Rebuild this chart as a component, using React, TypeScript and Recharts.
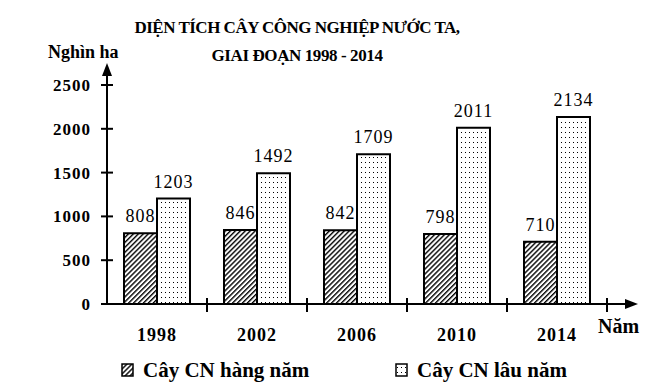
import React from 'react';
import { BarChart, Bar, XAxis, YAxis, LabelList } from 'recharts';

// Diện tích cây công nghiệp (nghìn ha)
const years = ['1998', '2002', '2006', '2010', '2014'];
const annualCrops = [808, 846, 842, 798, 710];
const perennialCrops = [1203, 1492, 1709, 2011, 2134];
const yTicks = [0, 500, 1000, 1500, 2000, 2500];
const seriesNames = ['Cây CN hàng năm', 'Cây CN lâu năm'];
const seriesFills = ['url(#hatch)', 'url(#dots)'];

const data = years.map((year, i) => ({
  year,
  annual: annualCrops[i],
  perennial: perennialCrops[i],
}));

const W = 650;
const H = 382;
const AXIS_X = 107;
const AXIS_Y = 304;
const PLOT_RIGHT = 607;
const PLOT_TOP = 85;
const BAND = (PLOT_RIGHT - AXIS_X) / years.length;
const FONT = '"Liberation Serif", "Times New Roman", serif';
const serif = { fontFamily: FONT };

const YTick = (props: any) => {
  const { x, y, payload } = props;
  return (
    <g>
      <line x1={AXIS_X - 6} x2={AXIS_X + 6} y1={y} y2={y} stroke="#000" strokeWidth={2} />
      <text x={x} y={y + 6} textAnchor="end" style={serif} fontWeight="bold" fontSize={17} letterSpacing={1} fill="#000">
        {payload.value}
      </text>
    </g>
  );
};

const XTick = (props: any) => {
  const { x, y, payload } = props;
  return (
    <g>
      <line x1={x + BAND / 2} x2={x + BAND / 2} y1={AXIS_Y - 6} y2={AXIS_Y + 8} stroke="#000" strokeWidth={2} />
      <text x={x} y={y} textAnchor="middle" style={serif} fontWeight="bold" fontSize={18} letterSpacing={1} fill="#000">
        {payload.value}
      </text>
    </g>
  );
};

export default function App() {
  return (
    <div style={{ position: 'absolute', left: 0, top: 0, width: W, height: H, background: '#fff', fontFamily: FONT }}>
      <BarChart
        width={W}
        height={H}
        data={data}
        margin={{ top: PLOT_TOP, right: W - PLOT_RIGHT, left: AXIS_X - 60, bottom: 48 }}
        barCategoryGap="17%"
        barGap={0}
      >
        <XAxis
          dataKey="year"
          height={30}
          axisLine={{ stroke: '#000', strokeWidth: 2 }}
          tickLine={false}
          tickSize={0}
          tickMargin={37}
          tick={<XTick />}
          interval={0}
        />
        <YAxis
          width={60}
          domain={[0, 2500]}
          ticks={yTicks}
          axisLine={{ stroke: '#000', strokeWidth: 2 }}
          tickLine={false}
          tickSize={0}
          tickMargin={16}
          tick={<YTick />}
        />
        <Bar dataKey="annual" name={seriesNames[0]} fill={seriesFills[0]} stroke="#000" strokeWidth={2} isAnimationActive={false}>
          <LabelList dataKey="annual" position="top" offset={11} style={serif} fontSize={18} fill="#000" letterSpacing={1} />
        </Bar>
        <Bar dataKey="perennial" name={seriesNames[1]} fill={seriesFills[1]} stroke="#000" strokeWidth={2} isAnimationActive={false}>
          <LabelList dataKey="perennial" position="top" offset={11} style={serif} fontSize={18} fill="#000" letterSpacing={1} />
        </Bar>
      </BarChart>

      <svg width={W} height={H} style={{ position: 'absolute', left: 0, top: 0, pointerEvents: 'none' }}>
        <defs>
          <pattern id="hatch" width="3.5" height="3.5" patternUnits="userSpaceOnUse" patternTransform="rotate(45)">
            <rect x="0" y="0" width="1.4" height="3.5" fill="#000" />
          </pattern>
          <pattern id="dots" width="4" height="5" patternUnits="userSpaceOnUse">
            <rect x="0" y="0" width="4" height="5" fill="#fff" />
            <rect x="1" y="2" width="1" height="1" fill="#000" />
          </pattern>
        </defs>

        <g style={serif} fontWeight="bold" fill="#000">
          <text x={297} y={33} textAnchor="middle" fontSize={17} letterSpacing={-0.5}>DIỆN TÍCH CÂY CÔNG NGHIỆP NƯỚC TA,</text>
          <text x={297} y={61} textAnchor="middle" fontSize={17} letterSpacing={-0.4}>GIAI ĐOẠN 1998 - 2014</text>
          <text x={48} y={58} fontSize={18}>Nghìn ha</text>
          <text x={598} y={333} fontSize={20}>Năm</text>
        </g>

        {/* axis arrows */}
        <line x1={AXIS_X} x2={AXIS_X} y1={PLOT_TOP} y2={72} stroke="#000" strokeWidth={2} />
        <polygon points={`${AXIS_X},63 ${AXIS_X - 5},76 ${AXIS_X + 5},76`} fill="#000" />
        <line x1={PLOT_RIGHT} x2={628} y1={AXIS_Y} y2={AXIS_Y} stroke="#000" strokeWidth={2} />
        <polygon points={`638,${AXIS_Y} 625,${AXIS_Y - 5} 625,${AXIS_Y + 5}`} fill="#000" />

        {/* legend */}
        {seriesNames.map((name, i) => {
          const x0 = i === 0 ? 122 : 396;
          return (
            <g key={name}>
              <rect x={x0} y={364} width={11} height={12} fill={seriesFills[i]} stroke="#000" strokeWidth={1.5} />
              <text x={x0 + 21} y={377} style={serif} fontWeight="bold" fontSize={21} fill="#000">{name}</text>
            </g>
          );
        })}
      </svg>
    </div>
  );
}
